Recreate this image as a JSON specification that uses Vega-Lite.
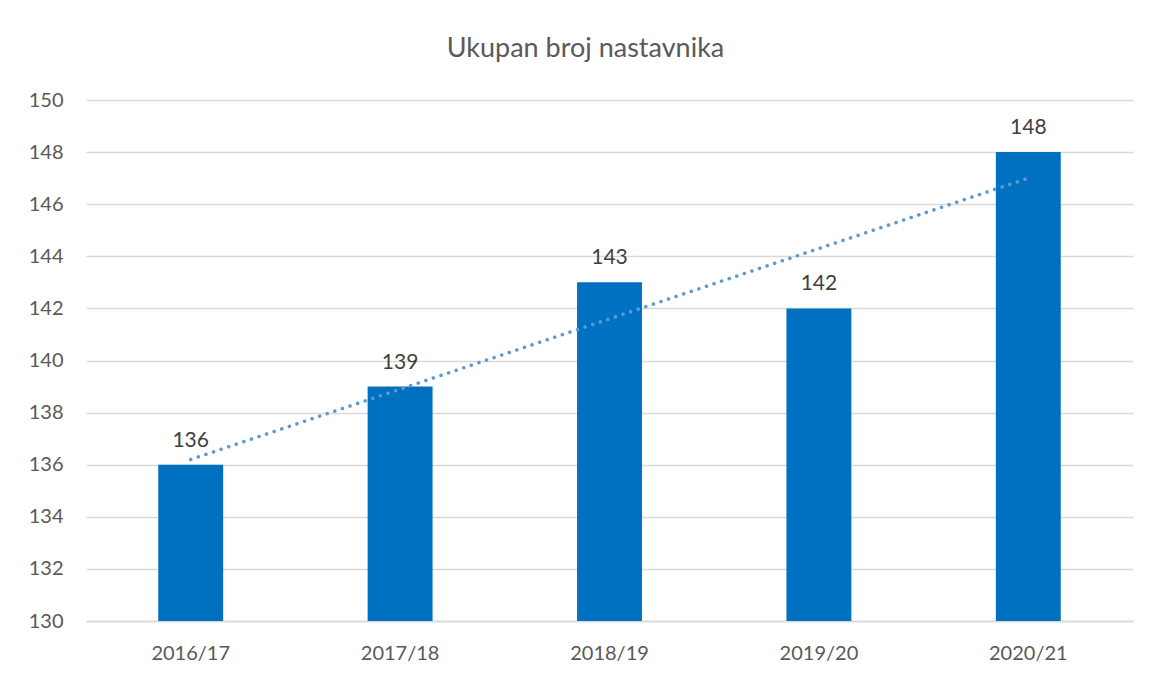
{
  "$schema": "https://vega.github.io/schema/vega-lite/v6.json",
  "autosize": {"type": "none"},
  "width": 1047,
  "height": 521,
  "padding": {"left": 86, "top": 100, "right": 16, "bottom": 54},
  "background": "white",
  "title": {
    "text": "Ukupan broj nastavnika",
    "font": "Lato",
    "fontSize": 27,
    "fontWeight": "normal",
    "color": "#595959",
    "anchor": "middle",
    "frame": "group",
    "baseline": "alphabetic",
    "offset": 6,
    "dx": -24
  },
  "data": {
    "values": [
      {"year": "2016/17", "value": 136, "trend": 136.2},
      {"year": "2017/18", "value": 139, "trend": 138.9},
      {"year": "2018/19", "value": 143, "trend": 141.6},
      {"year": "2019/20", "value": 142, "trend": 144.3},
      {"year": "2020/21", "value": 148, "trend": 147.0}
    ]
  },
  "encoding": {
    "x": {
      "field": "year",
      "type": "nominal",
      "sort": null,
      "scale": {"paddingInner": 0.69, "paddingOuter": 0.345},
      "axis": {
        "title": null,
        "labelAngle": 0,
        "ticks": false,
        "domain": true,
        "domainColor": "#D9D9D9",
        "domainWidth": 1.5,
        "labelFont": "Lato",
        "labelFontSize": 20,
        "labelColor": "#595959",
        "labelPadding": 22
      }
    }
  },
  "layer": [
    {
      "mark": {"type": "bar", "color": "#0070C0", "clip": true},
      "encoding": {
        "y": {
          "field": "value",
          "type": "quantitative",
          "scale": {"domain": [130, 150], "nice": false, "zero": false},
          "axis": {
            "title": null,
            "values": [130, 132, 134, 136, 138, 140, 142, 144, 146, 148, 150],
            "ticks": false,
            "domain": false,
            "grid": true,
            "gridColor": "#D9D9D9",
            "gridWidth": 1.5,
            "labelFont": "Lato",
            "labelFontSize": 20,
            "labelColor": "#595959",
            "labelPadding": 23
          }
        }
      }
    },
    {
      "mark": {"type": "text", "font": "Lato", "fontSize": 21, "color": "#404040", "baseline": "alphabetic", "dy": -18},
      "encoding": {
        "y": {"field": "value", "type": "quantitative"},
        "text": {"field": "value", "type": "quantitative"}
      }
    },
    {
      "mark": {"type": "line", "color": "#5B9BD5", "strokeWidth": 3.5, "strokeCap": "round", "strokeDash": [0.1, 7.9]},
      "encoding": {
        "y": {"field": "trend", "type": "quantitative"}
      }
    }
  ],
  "config": {"view": {"stroke": null}}
}
